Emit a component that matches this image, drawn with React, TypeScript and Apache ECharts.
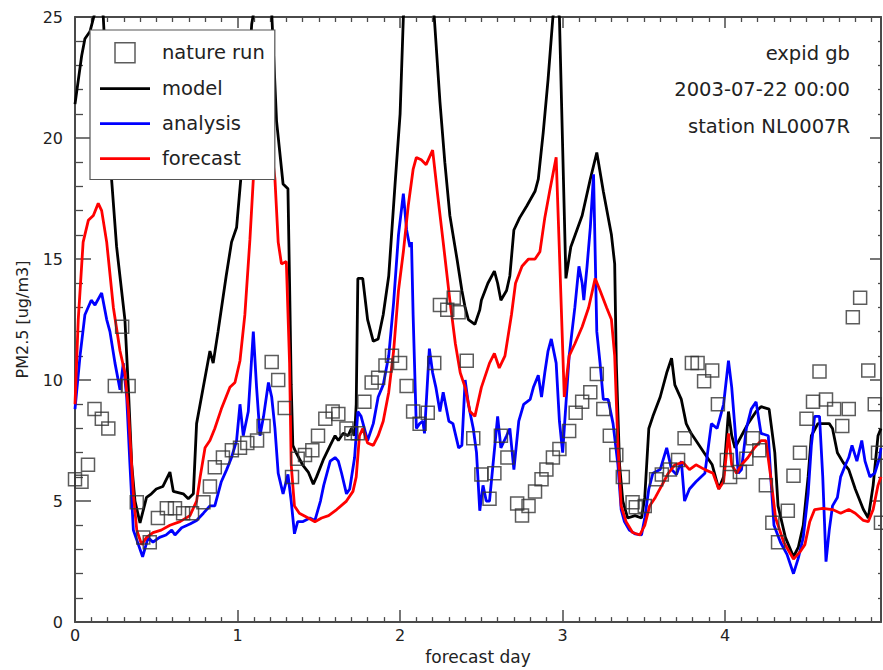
import React, { useEffect, useRef } from 'react';
import * as echarts from 'echarts';

const dayMax = 119 / 24;
const xTickDays = [0, 1, 2, 3, 4];
const infoLines = ['expid gb', '2003-07-22 00:00', 'station NL0007R'];
const seriesNames = ['nature run', 'model', 'analysis', 'forecast'];

const natureRun: [number, number][] = [
  [0, 5.9], [0.04, 5.8], [0.08, 6.5], [0.12, 8.8], [0.165, 8.4], [0.205, 8.0], [0.245, 9.75], [0.29, 12.2], [0.33, 9.75],
  [0.38, 4.95], [0.42, 3.5], [0.46, 3.3], [0.51, 4.3], [0.565, 4.7], [0.615, 4.7], [0.665, 4.5], [0.72, 4.5], [0.79, 4.95],
  [0.83, 5.6], [0.86, 6.4], [0.91, 6.8], [0.965, 7.1], [1.015, 7.2], [1.06, 7.4], [1.12, 7.5], [1.16, 8.1], [1.21, 10.75],
  [1.25, 10.0], [1.29, 8.85], [1.335, 6.0], [1.37, 6.75], [1.415, 6.9], [1.46, 7.1], [1.495, 7.7], [1.54, 8.4], [1.585, 8.7],
  [1.62, 8.6], [1.67, 8.0], [1.70, 7.8], [1.74, 7.8], [1.78, 9.1], [1.825, 9.9], [1.865, 10.1], [1.91, 10.6], [1.95, 11.0],
  [2.0, 10.7], [2.04, 9.75], [2.08, 8.7], [2.12, 8.2], [2.17, 8.65], [2.21, 10.7], [2.245, 13.1], [2.29, 12.9], [2.33, 13.4],
  [2.36, 12.8], [2.41, 10.8], [2.45, 7.6], [2.50, 6.1], [2.55, 5.1], [2.58, 6.15], [2.62, 7.7], [2.66, 6.8], [2.72, 4.9],
  [2.75, 4.4], [2.79, 4.8], [2.83, 5.4], [2.87, 5.9], [2.90, 6.3], [2.94, 6.8], [2.98, 7.15], [3.04, 7.9], [3.08, 8.65],
  [3.12, 9.1], [3.17, 9.5], [3.21, 10.25], [3.25, 8.8], [3.29, 7.7], [3.33, 6.9], [3.37, 6.0], [3.43, 4.95], [3.45, 4.75],
  [3.505, 4.8], [3.575, 5.9], [3.61, 6.1], [3.66, 6.3], [3.71, 6.7], [3.75, 7.6], [3.795, 10.7], [3.83, 10.7], [3.87, 9.95],
  [3.92, 10.4], [3.955, 9.0], [4.01, 6.7], [4.03, 6.0], [4.09, 6.2], [4.13, 6.75], [4.17, 7.6], [4.21, 7.1], [4.25, 5.65],
  [4.29, 4.1], [4.325, 3.3], [4.385, 4.6], [4.42, 6.05], [4.46, 7.0], [4.50, 8.4], [4.54, 9.1], [4.58, 10.35], [4.62, 9.2],
  [4.67, 8.8], [4.72, 8.1], [4.76, 8.8], [4.785, 12.6], [4.83, 13.4], [4.88, 10.4], [4.92, 9.0], [4.94, 7.0], [4.958, 4.1],
];

const model: [number, number][] = [
  [0, 21.4], [0.041, 23.4], [0.061, 24.1], [0.092, 24.4], [0.123, 25.2], [0.145, 26.5], [0.174, 25.0], [0.225, 18.3],
  [0.256, 15.5], [0.307, 12.5], [0.328, 9.7], [0.349, 6.5], [0.369, 5.0], [0.40, 4.1], [0.44, 5.15], [0.47, 5.3], [0.50, 5.5],
  [0.54, 5.6], [0.584, 6.2], [0.605, 5.4], [0.666, 5.3], [0.697, 5.1], [0.728, 5.3], [0.748, 8.2], [0.789, 9.7], [0.83, 11.2],
  [0.85, 10.7], [0.88, 12.0], [0.93, 14.3], [0.963, 15.7], [0.994, 16.3], [1.025, 18.7], [1.066, 22.4], [1.087, 24.7],
  [1.107, 25.5], [1.16, 28.0], [1.21, 25.2], [1.24, 20.7], [1.28, 18.1], [1.31, 17.9], [1.32, 14.0], [1.33, 9.8], [1.34, 7.3],
  [1.36, 7.0], [1.40, 6.5], [1.435, 6.2], [1.466, 5.7], [1.486, 6.0], [1.527, 6.7], [1.57, 7.3], [1.60, 7.7], [1.62, 7.5],
  [1.65, 7.8], [1.68, 7.7], [1.70, 8.0], [1.72, 7.7], [1.73, 9.0], [1.74, 14.2], [1.77, 14.2], [1.80, 12.5], [1.835, 11.6],
  [1.865, 11.7], [1.896, 12.7], [1.93, 14.3], [1.97, 18.2], [2.0, 21.0], [2.02, 25.0], [2.1, 29.0], [2.21, 25.0], [2.245, 21.5],
  [2.275, 19.0], [2.306, 16.8], [2.35, 15.0], [2.38, 13.7], [2.40, 13.0], [2.42, 12.5], [2.46, 12.3], [2.49, 12.9], [2.50, 13.3],
  [2.54, 14.0], [2.58, 14.5], [2.60, 14.0], [2.62, 13.3], [2.655, 13.7], [2.675, 14.3], [2.70, 16.2], [2.735, 16.7], [2.78, 17.2],
  [2.83, 17.8], [2.85, 18.3], [2.88, 20.2], [2.91, 22.4], [2.94, 25.0], [2.955, 25.6], [2.98, 25.0], [3.02, 14.2], [3.05, 15.5],
  [3.12, 16.8], [3.17, 18.3], [3.21, 19.4], [3.25, 17.8], [3.30, 16.0], [3.32, 14.8], [3.33, 10.7], [3.35, 6.5], [3.37, 5.0],
  [3.40, 4.3], [3.445, 4.4], [3.485, 4.3], [3.505, 5.15], [3.53, 8.0], [3.555, 8.5], [3.60, 9.3], [3.64, 10.3], [3.67, 10.9],
  [3.69, 9.8], [3.73, 9.2], [3.76, 8.2], [3.79, 7.8], [3.82, 7.5], [3.87, 7.0], [3.92, 6.5], [3.96, 5.5], [3.99, 6.0],
  [4.02, 8.7], [4.04, 7.7], [4.06, 7.2], [4.10, 7.7], [4.14, 8.2], [4.19, 8.7], [4.22, 8.9], [4.27, 8.8], [4.305, 7.0],
  [4.325, 4.8], [4.37, 3.5], [4.42, 2.7], [4.45, 3.1], [4.48, 4.0], [4.51, 6.0], [4.53, 7.7], [4.57, 8.2], [4.60, 8.2],
  [4.64, 8.2], [4.66, 8.0], [4.69, 7.0], [4.725, 6.6], [4.76, 6.3], [4.80, 5.5], [4.85, 4.65], [4.88, 4.3], [4.91, 5.65],
  [4.94, 7.7], [4.958, 8.0],
];

const analysis: [number, number][] = [
  [0, 8.8], [0.031, 11.0], [0.061, 12.7], [0.10, 13.3], [0.123, 13.1], [0.164, 13.6], [0.195, 12.5], [0.215, 12.0],
  [0.246, 10.7], [0.277, 9.6], [0.297, 10.7], [0.318, 9.3], [0.338, 6.5], [0.359, 3.8], [0.39, 3.2], [0.416, 2.7], [0.45, 3.5],
  [0.48, 3.3], [0.52, 3.5], [0.56, 3.6], [0.595, 3.8], [0.615, 3.6], [0.656, 3.9], [0.707, 4.05], [0.748, 4.2], [0.79, 4.5],
  [0.83, 4.8], [0.86, 4.8], [0.90, 5.8], [0.933, 6.3], [0.963, 6.8], [0.994, 7.5], [1.015, 9.0], [1.035, 7.7], [1.066, 8.7],
  [1.097, 12.0], [1.117, 9.7], [1.138, 7.7], [1.16, 8.5], [1.19, 9.9], [1.21, 9.3], [1.23, 8.0], [1.25, 6.15], [1.28, 5.3],
  [1.31, 6.1], [1.33, 5.0], [1.35, 3.65], [1.37, 4.15], [1.40, 4.15], [1.445, 4.3], [1.476, 4.2], [1.51, 5.0], [1.53, 5.65],
  [1.57, 6.65], [1.60, 6.8], [1.62, 6.65], [1.64, 6.15], [1.67, 5.3], [1.69, 5.5], [1.72, 6.8], [1.74, 8.7], [1.76, 8.5],
  [1.78, 8.0], [1.80, 7.5], [1.835, 8.2], [1.865, 9.3], [1.896, 9.8], [1.93, 11.0], [1.96, 13.2], [1.99, 16.0], [2.02, 17.7],
  [2.04, 16.2], [2.06, 15.5], [2.07, 15.7], [2.08, 12.7], [2.10, 8.0], [2.12, 8.2], [2.14, 8.3], [2.15, 7.8], [2.18, 11.3],
  [2.20, 10.3], [2.22, 9.7], [2.245, 8.7], [2.265, 9.5], [2.30, 8.3], [2.325, 8.2], [2.36, 7.2], [2.38, 7.3], [2.40, 10.0],
  [2.42, 9.0], [2.45, 8.0], [2.47, 7.0], [2.49, 4.6], [2.51, 5.65], [2.53, 5.0], [2.55, 5.0], [2.60, 8.5], [2.62, 7.2],
  [2.655, 7.7], [2.675, 8.0], [2.70, 6.3], [2.73, 8.3], [2.76, 9.0], [2.80, 9.2], [2.82, 9.7], [2.85, 10.2], [2.87, 9.3],
  [2.89, 10.3], [2.91, 11.2], [2.93, 11.7], [2.96, 10.7], [2.98, 8.3], [3.00, 7.0], [3.02, 9.0], [3.04, 11.0], [3.075, 13.0],
  [3.10, 14.7], [3.12, 14.0], [3.13, 13.3], [3.15, 14.7], [3.17, 16.3], [3.19, 18.5], [3.21, 12.0], [3.23, 10.7], [3.25, 9.2],
  [3.28, 9.2], [3.31, 8.2], [3.34, 6.5], [3.36, 4.65], [3.38, 4.15], [3.41, 3.8], [3.445, 3.65], [3.485, 3.6], [3.505, 4.3],
  [3.53, 5.5], [3.555, 6.15], [3.60, 6.3], [3.64, 7.2], [3.67, 6.3], [3.70, 6.1], [3.73, 6.65], [3.75, 5.0], [3.78, 5.5],
  [3.82, 5.8], [3.875, 6.15], [3.915, 8.2], [3.95, 8.0], [3.99, 9.0], [4.02, 10.8], [4.04, 9.7], [4.06, 8.0], [4.08, 6.15],
  [4.10, 6.3], [4.13, 8.0], [4.16, 8.8], [4.19, 9.1], [4.22, 7.8], [4.265, 7.7], [4.28, 6.0], [4.30, 4.0], [4.34, 3.3],
  [4.38, 2.8], [4.42, 2.0], [4.45, 2.65], [4.48, 3.5], [4.51, 5.3], [4.53, 7.3], [4.55, 8.5], [4.58, 8.5], [4.60, 6.0],
  [4.62, 2.5], [4.64, 3.8], [4.66, 4.8], [4.69, 5.15], [4.71, 6.0], [4.74, 6.5], [4.76, 6.8], [4.78, 7.3], [4.81, 6.65],
  [4.84, 7.5], [4.86, 6.65], [4.89, 6.0], [4.92, 6.15], [4.95, 6.8], [4.958, 7.2],
];

const forecast: [number, number][] = [
  [0, 9.0], [0.02, 12.5], [0.05, 15.7], [0.082, 16.6], [0.113, 16.8], [0.143, 17.3], [0.164, 17.0], [0.195, 15.7],
  [0.236, 13.0], [0.277, 11.2], [0.307, 10.3], [0.328, 8.8], [0.359, 5.3], [0.38, 3.8], [0.41, 3.2], [0.44, 3.5], [0.48, 3.7],
  [0.53, 3.8], [0.584, 4.0], [0.646, 4.15], [0.707, 4.4], [0.748, 5.0], [0.77, 6.0], [0.80, 7.2], [0.83, 7.5], [0.86, 8.0],
  [0.90, 8.8], [0.953, 9.7], [0.984, 9.9], [1.015, 10.8], [1.045, 12.7], [1.076, 15.8], [1.097, 18.3], [1.13, 19.8],
  [1.17, 20.5], [1.21, 19.5], [1.23, 18.3], [1.25, 15.7], [1.27, 14.8], [1.30, 14.9], [1.32, 10.7], [1.33, 6.5], [1.35, 4.8],
  [1.38, 4.5], [1.435, 4.3], [1.476, 4.15], [1.517, 4.3], [1.56, 4.4], [1.61, 4.65], [1.67, 5.0], [1.71, 5.4], [1.73, 6.0],
  [1.75, 7.7], [1.77, 8.0], [1.80, 7.4], [1.835, 7.3], [1.865, 7.7], [1.896, 8.3], [1.93, 9.5], [1.96, 11.2], [1.99, 13.7],
  [2.02, 15.3], [2.05, 17.2], [2.08, 18.7], [2.10, 19.2], [2.13, 19.1], [2.16, 18.9], [2.20, 19.5], [2.23, 17.7], [2.265, 15.7],
  [2.306, 13.3], [2.34, 11.5], [2.37, 10.3], [2.40, 9.7], [2.43, 8.7], [2.46, 8.5], [2.50, 9.7], [2.55, 10.7], [2.58, 11.1],
  [2.61, 10.5], [2.645, 11.0], [2.685, 12.7], [2.71, 14.0], [2.75, 14.7], [2.79, 15.0], [2.83, 15.0], [2.86, 15.3], [2.89, 16.7],
  [2.92, 17.8], [2.96, 19.2], [2.98, 15.3], [3.01, 9.3], [3.04, 11.0], [3.075, 11.5], [3.12, 12.2], [3.16, 13.0], [3.20, 14.2],
  [3.23, 13.7], [3.27, 13.0], [3.30, 12.5], [3.32, 11.0], [3.34, 7.3], [3.36, 4.8], [3.39, 4.15], [3.43, 3.7], [3.475, 3.6],
  [3.505, 4.0], [3.535, 4.8], [3.57, 5.15], [3.61, 5.65], [3.65, 6.15], [3.69, 6.5], [3.74, 6.6], [3.78, 6.3], [3.82, 6.5],
  [3.875, 6.3], [3.925, 6.15], [3.96, 5.5], [3.99, 5.8], [4.02, 7.8], [4.04, 6.5], [4.07, 6.15], [4.10, 6.5], [4.14, 6.8],
  [4.18, 7.2], [4.22, 7.5], [4.25, 7.5], [4.28, 6.0], [4.31, 4.3], [4.36, 3.3], [4.42, 2.6], [4.46, 2.9], [4.49, 3.2],
  [4.52, 4.15], [4.55, 4.65], [4.60, 4.7], [4.66, 4.65], [4.71, 4.5], [4.76, 4.65], [4.80, 4.5], [4.85, 4.2], [4.88, 4.15],
  [4.91, 4.65], [4.94, 5.65], [4.958, 6.0],
];

export default function App() {
  const ref = useRef<HTMLDivElement>(null);
  useEffect(() => {
    if (!ref.current) return;
    const chart = echarts.init(ref.current, null, { renderer: 'svg' });
    const font = 'DejaVu Sans';
    const axisColor = '#4a4a4a';
    const textColor = '#222';
    const lineW = 2.8;
    const lineAxis = { show: true, onZero: false, lineStyle: { color: axisColor, width: 2 } };
    const xCommon = {
      type: 'value', min: 0, max: dayMax, interval: 1,
      axisLine: lineAxis, splitLine: { show: false },
    };
    const yCommon = {
      type: 'value', min: 0, max: 25, interval: 5,
      axisLine: lineAxis, splitLine: { show: false },
    };
    const lineIcon = 'path://M0,0L20,0L20,1.1L0,1.1Z';
    const option: any = {
      animation: false,
      backgroundColor: '#fff',
      grid: { left: 75, right: 2, top: 17, bottom: 42, containLabel: false },
      xAxis: [
        {
          ...xCommon, position: 'bottom',
          name: 'forecast day', nameLocation: 'middle', nameGap: 24,
          nameTextStyle: { fontFamily: font, fontSize: 17, color: textColor },
          axisTick: { inside: true, length: 12, lineStyle: { color: axisColor, width: 1.5 } },
          minorTick: { show: true, splitNumber: 10, length: 5, lineStyle: { color: axisColor, width: 1.3 } },
          axisLabel: {
            margin: 5, fontFamily: font, fontSize: 16, color: textColor, showMaxLabel: false,
            formatter: (v: number) => (xTickDays.includes(v) ? String(v) : ''),
          },
        },
        {
          ...xCommon, position: 'top',
          axisTick: { inside: true, length: 11, lineStyle: { color: axisColor, width: 1.5 } },
          minorTick: { show: true, splitNumber: 10, length: 5, lineStyle: { color: axisColor, width: 1.3 } },
          axisLabel: { show: false },
        },
      ],
      yAxis: [
        {
          ...yCommon, position: 'left',
          name: 'PM2.5 [ug/m3]', nameLocation: 'middle', nameGap: 45, nameRotate: 90,
          nameTextStyle: { fontFamily: font, fontSize: 16, color: textColor },
          axisTick: { inside: true, length: 16, lineStyle: { color: axisColor, width: 1.5 } },
          minorTick: { show: true, splitNumber: 5, length: 8, lineStyle: { color: axisColor, width: 1.3 } },
          axisLabel: { margin: 12, fontFamily: font, fontSize: 16, color: textColor },
        },
        {
          ...yCommon, position: 'right',
          axisTick: { inside: true, length: 11, lineStyle: { color: axisColor, width: 1.5 } },
          minorTick: { show: true, splitNumber: 5, length: 3, lineStyle: { color: axisColor, width: 1.3 } },
          axisLabel: { show: false },
        },
      ],
      legend: {
        orient: 'vertical', left: 90, top: 30,
        itemWidth: 50, itemHeight: 20, itemGap: 15,
        padding: [12, 10, 11, 10],
        backgroundColor: '#fff', borderColor: '#555', borderWidth: 1.2,
        selectedMode: false,
        symbolKeepAspect: true,
        textStyle: { fontFamily: font, fontSize: 19.5, color: textColor, padding: [0, 0, 0, 7] },
        data: [
          {
            name: seriesNames[0], icon: 'path://M0,0L10,0L10,10L0,10Z',
            itemStyle: { color: 'rgba(0,0,0,0)', borderColor: '#333', borderWidth: 1.5 },
          },
          { name: seriesNames[1], icon: lineIcon, itemStyle: { color: '#000', borderWidth: 0 } },
          { name: seriesNames[2], icon: lineIcon, itemStyle: { color: '#0000ff', borderWidth: 0 } },
          { name: seriesNames[3], icon: lineIcon, itemStyle: { color: '#ff0000', borderWidth: 0 } },
        ],
      },
      graphic: infoLines.map((t, i) => ({
        type: 'text', x: 850, y: [53, 89.5, 126][i], z: 10,
        style: {
          text: t, align: 'right', verticalAlign: 'middle', textAlign: 'right', textVerticalAlign: 'middle',
          fontFamily: font, fontSize: 19.5, fill: textColor,
        },
      })),
      series: [
        {
          name: seriesNames[1], type: 'line', data: model, symbol: 'none', silent: true,
          lineStyle: { color: '#000', width: lineW }, itemStyle: { color: '#000' }, z: 3,
        },
        {
          name: seriesNames[2], type: 'line', data: analysis, symbol: 'none', silent: true,
          lineStyle: { color: '#0000ff', width: lineW }, itemStyle: { color: '#0000ff' }, z: 3,
        },
        {
          name: seriesNames[3], type: 'line', data: forecast, symbol: 'none', silent: true,
          lineStyle: { color: '#ff0000', width: lineW }, itemStyle: { color: '#ff0000' }, z: 3,
        },
        {
          name: seriesNames[0], type: 'scatter', data: natureRun, symbol: 'rect', symbolSize: 13, silent: true,
          itemStyle: { color: 'rgba(0,0,0,0)', borderColor: '#333', borderWidth: 1.5 }, z: 4,
        },
      ],
    };
    chart.setOption(option);
    return () => chart.dispose();
  }, []);
  return <div ref={ref} style={{ position: 'fixed', left: 0, top: 0, width: 883, height: 670 }} />;
}
